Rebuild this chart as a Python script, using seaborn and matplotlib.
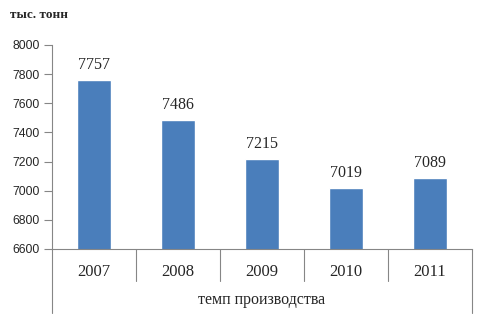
import matplotlib
matplotlib.use("Agg")
import matplotlib.pyplot as plt
import seaborn as sns
import pandas as pd

years = ["2007", "2008", "2009", "2010", "2011"]
values = [7757, 7486, 7215, 7019, 7089]
yticks = [6600, 6800, 7000, 7200, 7400, 7600, 7800, 8000]
unit_label = "тыс. тонн"
group_label = "темп производства"

sns.set_style("white")
plt.rcParams['font.family'] = ['Liberation Serif', 'DejaVu Serif']

df = pd.DataFrame({"year": years, "value": values})

fig = plt.figure(figsize=(4.8, 3.26), dpi=100)
ax = fig.add_axes([0.1083, 0.2362, 0.875, 0.6258])
sns.barplot(data=df, x="year", y="value", color="#4a7ebb", saturation=1,
            width=0.4, ax=ax)
n = len(years)
ax.set_xlim(-0.5, n - 0.5)
ax.set_ylim(6600, 8000)
ax.set_yticks(yticks)
ax.set_yticklabels([str(t) for t in yticks], family=['Liberation Sans', 'DejaVu Sans'], fontsize=8.8)
ax.set_xlabel("")
ax.set_ylabel("")
ax.tick_params(axis='y', left=True, length=5.5, width=0.8, color='#868686', pad=3.5)
ax.tick_params(axis='x', bottom=False, labelsize=12, pad=7)
for s in ["top", "right"]:
    ax.spines[s].set_visible(False)
for s in ["left", "bottom"]:
    ax.spines[s].set_color("#868686")
    ax.spines[s].set_linewidth(0.8)

for i, v in enumerate(values):
    ax.annotate(str(v), (i, v), xytext=(0, 5), textcoords="offset points",
                ha="center", va="bottom", fontsize=11.5)

trans = ax.get_xaxis_transform()
for k in range(n + 1):
    xpos = k - 0.5
    yend = -0.314 if k in (0, n) else -0.157
    ax.plot([xpos, xpos], [0, yend], transform=trans, color="#868686",
            lw=0.8, clip_on=False)

ax.text(0.5, -0.25, group_label, transform=ax.transAxes, ha="center",
        va="center", fontsize=11.5)
fig.text(10 / 480, 1 - 15 / 326, unit_label, ha="left", va="center",
         fontsize=9.5, fontweight="bold")

fig.savefig("out.png", dpi=100)
